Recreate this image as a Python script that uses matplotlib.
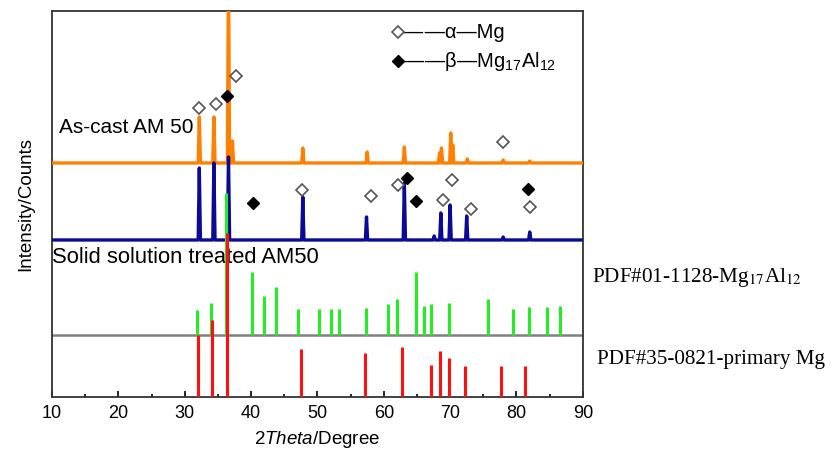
import matplotlib
matplotlib.use("Agg")
from matplotlib import pyplot as plt
from matplotlib.ticker import MultipleLocator

plt.rcParams['font.family'] = ['Liberation Sans', 'DejaVu Sans']
plt.rcParams['mathtext.fontset'] = 'custom'
plt.rcParams['mathtext.rm'] = 'Liberation Sans'
plt.rcParams['mathtext.it'] = 'Liberation Sans:italic'

# 衍射峰 (位置, 峰高), 纵坐标为任意单位
cast_base = 234
cast_pos = [32.2, 34.4, 36.6, 37.2, 47.8, 57.5, 63.1, 68.4, 68.7, 70.1, 70.4, 72.6, 78.0, 82.0]
cast_h = [46, 46, 200, 22, 15, 11, 16, 10, 15, 30, 18, 4, 3, 2]

ss_base = 157
ss_pos = [32.2, 34.4, 36.6, 47.8, 57.4, 63.1, 67.6, 68.6, 70.0, 72.5, 78.0, 82.0]
ss_h = [72, 77, 83, 43, 23, 57, 4, 27, 35, 24, 3, 8]

# 标记位置
cast_open_x = [32.1, 34.7, 37.7, 78.0]
cast_open_y = [289, 293, 321, 255]
cast_fill_x = [36.3]
cast_fill_y = [301]
ss_open_x = [47.7, 58.1, 62.2, 68.9, 70.3, 73.2, 82.0]
ss_open_y = [207, 201, 212, 197, 217, 188, 190]
ss_fill_x = [40.3, 63.5, 64.9, 81.7]
ss_fill_y = [194, 219, 196, 208]

# PDF#01-1128 Mg17Al12
pdf1_base = 62
pdf1_pos = [31.8, 33.9, 36.2, 40.1, 41.9, 43.8, 47.1, 50.2, 52.1, 53.3, 57.3, 60.6,
            62.0, 64.9, 66.0, 67.1, 69.8, 75.7, 79.5, 81.9, 84.6, 86.5]
pdf1_h = [25, 32, 142, 63, 39, 48, 26, 26, 26, 26, 27, 31,
          36, 63, 29, 31, 32, 36, 26, 28, 28, 29]

# PDF#35-0821 Mg
pdf2_pos = [32.0, 34.1, 36.3, 47.6, 57.1, 62.8, 67.1, 68.5, 69.8, 72.3, 77.7, 81.3]
pdf2_h = [62, 77, 164, 48, 44, 50, 32, 46, 39, 31, 31, 31]


def trace(base, pos, h):
    xs = [10]
    ys = [base]
    for p, v in zip(pos, h):
        xs += [p - 0.17, p, p + 0.17]
        ys += [base, base + v, base]
    xs.append(90)
    ys.append(base)
    return xs, ys


fig = plt.figure(figsize=(8.32, 4.54), dpi=100)
ax = fig.add_axes([0.0625, 0.1256, 0.638, 0.8502])

ax.axhline(pdf1_base, color="#808080", lw=1.8, zorder=2)

x, y = trace(cast_base, cast_pos, cast_h)
ax.plot(x, y, color="#ff8000", lw=2.4, zorder=3)
x, y = trace(ss_base, ss_pos, ss_h)
ax.plot(x, y, color="#0a0a96", lw=2.4, zorder=3)

ax.vlines(pdf1_pos, pdf1_base, [pdf1_base + v for v in pdf1_h], color="#22ee22", lw=2.2, zorder=3)
ax.vlines(pdf2_pos, 0, pdf2_h, color="#ff1010", lw=2.2, zorder=3)

mk = dict(marker="D", ms=6, ls="none", zorder=5)
ax.plot(cast_open_x + ss_open_x, cast_open_y + ss_open_y, mfc="white", mec="#555555", mew=1.2, **mk)
ax.plot(cast_fill_x + ss_fill_x, cast_fill_y + ss_fill_y, mfc="black", mec="black", **mk)

# 图例
ax.plot([0.652], [0.945], transform=ax.transAxes, mfc="white", mec="#555555", mew=1.2, **mk)
ax.plot([0.652], [0.870], transform=ax.transAxes, mfc="black", mec="black", **mk)
ax.text(0.662, 0.945, "—\u200a—α—Mg", transform=ax.transAxes, fontsize=14.5, va="center")
ax.text(0.662, 0.870, "—\u200a—β—Mg$_{17}$Al$_{12}$", transform=ax.transAxes, fontsize=14.5, va="center")

ax.text(11.0, 269, "As-cast AM 50", fontsize=15, va="center", zorder=1)
ax.text(10.0, 139, "Solid solution treated AM50", fontsize=15.8, va="center", zorder=1)

fig.text(0.712, 0.388, "PDF#01-1128-Mg$_{17}$Al$_{12}$", fontsize=15.2,
         family="Liberation Serif", math_fontfamily="stix", va="center")
fig.text(0.717, 0.209, "PDF#35-0821-primary Mg", fontsize=15.2,
         family="Liberation Serif", va="center")

ax.set_xlim(10, 90)
ax.set_ylim(0, 386)
ax.set_yticks([])
ax.xaxis.set_major_locator(MultipleLocator(10))
ax.xaxis.set_minor_locator(MultipleLocator(5))
ax.tick_params(axis="x", which="major", direction="in", length=4, width=1.2, labelsize=13, pad=6)
ax.tick_params(axis="x", which="minor", direction="in", length=2, width=1.2)
for s in ax.spines.values():
    s.set_linewidth(1.3)
    s.set_color("#333333")

ax.set_xlabel("$\\it{2Theta}$/Degree", fontsize=13.5, labelpad=5)
ax.set_ylabel("Intensity/Counts", fontsize=13.5, labelpad=13)

fig.savefig("out.png", dpi=100)
